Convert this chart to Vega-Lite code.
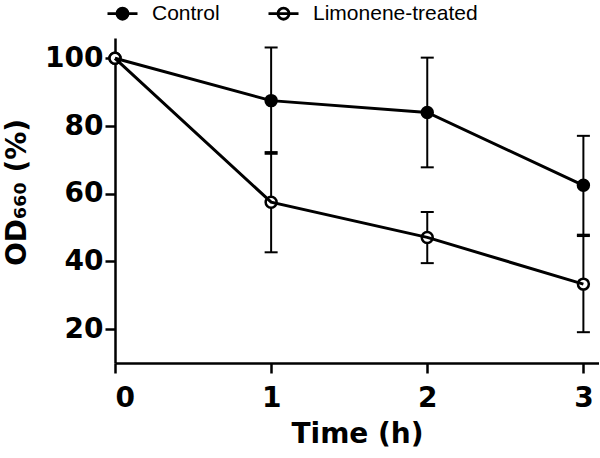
{
  "$schema": "https://vega.github.io/schema/vega-lite/v6.json",
  "width": 484,
  "height": 325,
  "autosize": {"type": "none"},
  "padding": {"left": 115, "top": 38, "right": 0, "bottom": 95},
  "background": "white",
  "config": {
    "view": {"stroke": null},
    "font": "DejaVu Sans",
    "axis": {
      "grid": false,
      "domainColor": "black",
      "domainWidth": 2.5,
      "tickColor": "black",
      "tickWidth": 2.5,
      "tickSize": 10,
      "labelFont": "DejaVu Sans",
      "labelFontSize": 28,
      "labelFontWeight": "bold",
      "labelColor": "black",
      "titleFont": "DejaVu Sans",
      "titleFontSize": 28,
      "titleFontWeight": "bold",
      "titleColor": "black"
    }
  },
  "data": {
    "values": [
      {"time": 0, "group": "Control", "mean": 100, "lo": 100, "hi": 100},
      {"time": 1, "group": "Control", "mean": 87.5, "lo": 71.8, "hi": 103.2},
      {"time": 2, "group": "Control", "mean": 84, "lo": 67.8, "hi": 100.2},
      {"time": 3, "group": "Control", "mean": 62.5, "lo": 47.9, "hi": 77.1},
      {"time": 0, "group": "Limonene-treated", "mean": 100, "lo": 100, "hi": 100},
      {"time": 1, "group": "Limonene-treated", "mean": 57.5, "lo": 42.7, "hi": 72.3},
      {"time": 2, "group": "Limonene-treated", "mean": 47.1, "lo": 39.5, "hi": 54.6},
      {"time": 3, "group": "Limonene-treated", "mean": 33.3, "lo": 19.1, "hi": 47.5}
    ]
  },
  "encoding": {
    "x": {
      "field": "time",
      "type": "quantitative",
      "scale": {"domain": [0, 3.1], "nice": false, "zero": false},
      "axis": {"title": "Time (h)", "values": [0, 1, 2, 3], "format": "d", "labelPadding": 11, "titlePadding": 8}
    }
  },
  "layer": [
    {
      "transform": [{"filter": "datum.time > 0"}],
      "mark": {"type": "rule", "color": "black", "strokeWidth": 2},
      "encoding": {
        "y": {
          "field": "lo",
          "type": "quantitative",
          "scale": {"domain": [10, 106], "nice": false, "zero": false},
          "axis": {"title": "OD₆₆₀ (%)", "values": [20, 40, 60, 80, 100], "labelPadding": 2, "titlePadding": 4, "titleX": -84, "titleY": 154}
        },
        "y2": {"field": "hi"}
      }
    },
    {
      "transform": [{"filter": "datum.time > 0"}],
      "mark": {"type": "tick", "orient": "horizontal", "color": "black", "size": 13, "thickness": 2, "opacity": 1},
      "encoding": {"y": {"field": "lo", "type": "quantitative"}}
    },
    {
      "transform": [{"filter": "datum.time > 0"}],
      "mark": {"type": "tick", "orient": "horizontal", "color": "black", "size": 13, "thickness": 2, "opacity": 1},
      "encoding": {"y": {"field": "hi", "type": "quantitative"}}
    },
    {
      "mark": {"type": "point", "shape": "circle", "filled": true, "stroke": "black", "strokeWidth": 2.5, "size": 120, "opacity": 1},
      "encoding": {
        "y": {"field": "mean", "type": "quantitative"},
        "fill": {
          "field": "group",
          "type": "nominal",
          "scale": {"domain": ["Control", "Limonene-treated"], "range": ["black", "white"]},
          "legend": {
            "title": null,
            "orient": "none",
            "direction": "horizontal",
            "legendX": -9,
            "legendY": -41,
            "padding": 0,
            "symbolType": "M-1,0H1M-0.37,0A0.37,0.37,0,1,1,0.37,0A0.37,0.37,0,1,1,-0.37,0Z",
            "symbolSize": 900,
            "symbolStrokeColor": "black",
            "symbolStrokeWidth": 2.8,
            "symbolOpacity": 1,
            "labelFont": "Liberation Sans",
            "labelFontSize": 21,
            "labelColor": "black",
            "labelLimit": 400,
            "labelOffset": 13,
            "columnPadding": 42
          }
        }
      }
    },
    {
      "mark": {"type": "line", "color": "black", "strokeWidth": 3},
      "encoding": {
        "y": {"field": "mean", "type": "quantitative"},
        "detail": {"field": "group", "type": "nominal"}
      }
    }
  ]
}
